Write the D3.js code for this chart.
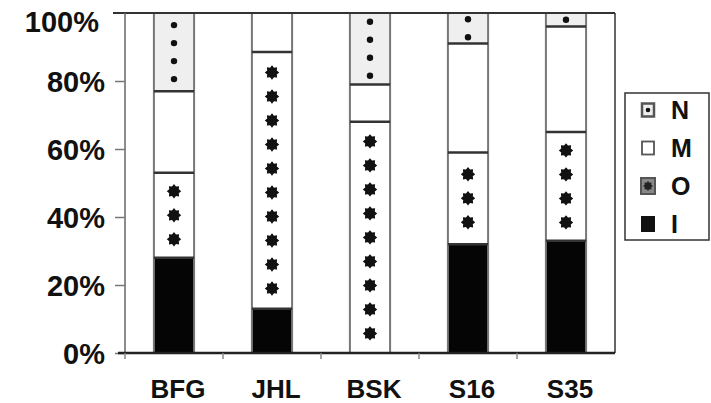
<!DOCTYPE html>
<html><head><meta charset="utf-8">
<script src="https://cdn.jsdelivr.net/npm/d3@7"></script>
<style>body{margin:0;background:#fff}svg{display:block}text{font-family:"Liberation Sans",Arial,sans-serif;font-weight:bold;fill:#111}</style>
</head><body><svg id="c" width="711" height="403"></svg>
<script>
const categories = ["BFG","JHL","BSK","S16","S35"];
const seriesNames = ["I","O","M","N"];
const valuesI = [28, 13, 0, 32, 33];
const valuesO = [25, 75.5, 68, 27, 32];
const valuesM = [24, 11.5, 11, 32, 31];
const valuesN = [23, 0, 21, 9, 4];
const yTicks = [0, 20, 40, 60, 80, 100];
const legendOrder = ["N","M","O","I"];

(function () {
const svg = d3.select("#c");
const pLeft = 125, pRight = 615, pTop = 13, pBottom = 353;
const x = d3.scaleBand().domain(categories).range([pLeft, pRight]).paddingInner(0.59).paddingOuter(0.295);
const y = d3.scaleLinear().domain([0, 100]).range([pBottom, pTop]);

const table = categories.map((c, i) => ({cat: c, I: valuesI[i], O: valuesO[i], M: valuesM[i], N: valuesN[i]}));
const stack = d3.stack().keys(seriesNames)(table);

const fills = {I: "#050505", O: "#ffffff", M: "#ffffff", N: "#efefef"};

function starPath(r1, r2, n) {
  const pts = d3.range(n * 2).map(k => [k * Math.PI / n, k % 2 ? r2 : r1]);
  return d3.lineRadial().curve(d3.curveLinearClosed)(pts);
}
const star = starPath(7.2, 5.2, 8);

stack.forEach(layer => {
  const key = layer.key;
  layer.forEach(d => {
    const cat = d.data.cat;
    const y0 = y(d[0]), y1 = y(d[1]);
    const h = y0 - y1;
    if (h <= 0.01) return;
    const bx = x(cat), bw = x.bandwidth(), cx = bx + bw / 2;
    svg.append("rect").attr("x", bx).attr("y", y1).attr("width", bw).attr("height", h).attr("fill", fills[key]);
    if (key === "N") {
      const n = Math.max(1, Math.round(h / 18));
      const mid = (y0 + y1) / 2;
      for (let k = 0; k < n; k++) {
        svg.append("circle").attr("cx", cx).attr("cy", mid + (k - (n - 1) / 2) * 18).attr("r", 3.2).attr("fill", "#111");
      }
    }
    if (key === "O") {
      const n = Math.max(1, Math.floor(h / 24));
      const mid = (y0 + y1) / 2;
      for (let k = 0; k < n; k++) {
        svg.append("path").attr("d", star).attr("transform", `translate(${cx},${mid + (k - (n - 1) / 2) * 24})`).attr("fill", "#111");
      }
    }
  });
});

categories.forEach(c => {
  const bx = x(c), bw = x.bandwidth();
  svg.append("line").attr("x1", bx).attr("x2", bx).attr("y1", pTop).attr("y2", pBottom).attr("stroke", "#777").attr("stroke-width", 2);
  svg.append("line").attr("x1", bx + bw).attr("x2", bx + bw).attr("y1", pTop).attr("y2", pBottom).attr("stroke", "#777").attr("stroke-width", 2);
});
stack.forEach(layer => {
  layer.forEach(d => {
    if (d[1] - d[0] <= 0.01 || d[1] >= 99.9) return;
    const bx = x(d.data.cat), bw = x.bandwidth();
    svg.append("line").attr("x1", bx).attr("x2", bx + bw).attr("y1", y(d[1])).attr("y2", y(d[1])).attr("stroke", "#333").attr("stroke-width", 2.5);
  });
});

svg.append("line").attr("x1", pLeft - 12).attr("x2", pRight).attr("y1", pTop).attr("y2", pTop).attr("stroke", "#333").attr("stroke-width", 2);
svg.append("line").attr("x1", pRight).attr("x2", pRight).attr("y1", pTop).attr("y2", pBottom).attr("stroke", "#333").attr("stroke-width", 1.5);
svg.append("line").attr("x1", pLeft).attr("x2", pLeft).attr("y1", pTop).attr("y2", pBottom).attr("stroke", "#666").attr("stroke-width", 1.5);

const yAxis = svg.append("g").attr("transform", `translate(${pLeft},0)`)
  .call(d3.axisLeft(y).tickValues(yTicks).tickSize(10).tickPadding(10).tickFormat(d => d + "%"));
yAxis.select(".domain").remove();
yAxis.selectAll(".tick line").attr("stroke", "#777").attr("stroke-width", 1.5);
yAxis.selectAll(".tick text").attr("font-size", 29).attr("font-family", "Liberation Sans, Arial, sans-serif").attr("font-weight", "bold").attr("dy", "0.36em").style("fill", "#111");
// the top label sits a little lower and further left, as in the reference
yAxis.selectAll(".tick").filter(d => d === 100).select("text").attr("dy", "0.64em").attr("dx", -6);
yAxis.selectAll(".tick").filter(d => d === 100).select("line").remove();

svg.append("line").attr("x1", pLeft - 7).attr("x2", pRight).attr("y1", pBottom).attr("y2", pBottom).attr("stroke", "#222").attr("stroke-width", 2.5);
const half = (x.step() - x.bandwidth()) / 2;
categories.forEach(c => {
  const tx = x(c) - half;
  svg.append("line").attr("x1", tx).attr("x2", tx).attr("y1", pBottom).attr("y2", pBottom + 6).attr("stroke", "#888").attr("stroke-width", 1.5);
});
categories.forEach(c => {
  svg.append("text").attr("x", x(c) + x.bandwidth() / 2 + 4).attr("y", 398).attr("text-anchor", "middle").attr("font-size", 26).text(c);
});

const lg = svg.append("g");
lg.append("rect").attr("x", 625).attr("y", 93).attr("width", 84).attr("height", 147).attr("fill", "#fff").attr("stroke", "#333").attr("stroke-width", 1.5);
legendOrder.forEach((k, i) => {
  const cy = 110 + i * 38;
  const g = lg.append("g").attr("transform", `translate(648,${cy})`);
  if (k === "I") {
    g.append("rect").attr("x", -7).attr("y", -8).attr("width", 14).attr("height", 16).attr("fill", "#111");
  } else if (k === "O") {
    g.append("rect").attr("x", -7).attr("y", -8).attr("width", 14).attr("height", 16).attr("fill", "#888").attr("stroke", "#555").attr("stroke-width", 2);
    g.append("path").attr("d", starPath(5, 3.5, 8)).attr("fill", "#222");
  } else if (k === "N") {
    g.append("rect").attr("x", -6).attr("y", -6.5).attr("width", 12).attr("height", 13).attr("fill", "#eee").attr("stroke", "#555").attr("stroke-width", 2.5);
    g.append("circle").attr("r", 2.3).attr("fill", "#111");
  } else {
    g.append("rect").attr("x", -6).attr("y", -6.5).attr("width", 12).attr("height", 13).attr("fill", "#fff").attr("stroke", "#555").attr("stroke-width", 1.8);
  }
  lg.append("text").attr("x", 671).attr("y", cy).attr("dy", "0.36em").attr("font-size", 25).text(k);
});
})();
</script></body></html>
